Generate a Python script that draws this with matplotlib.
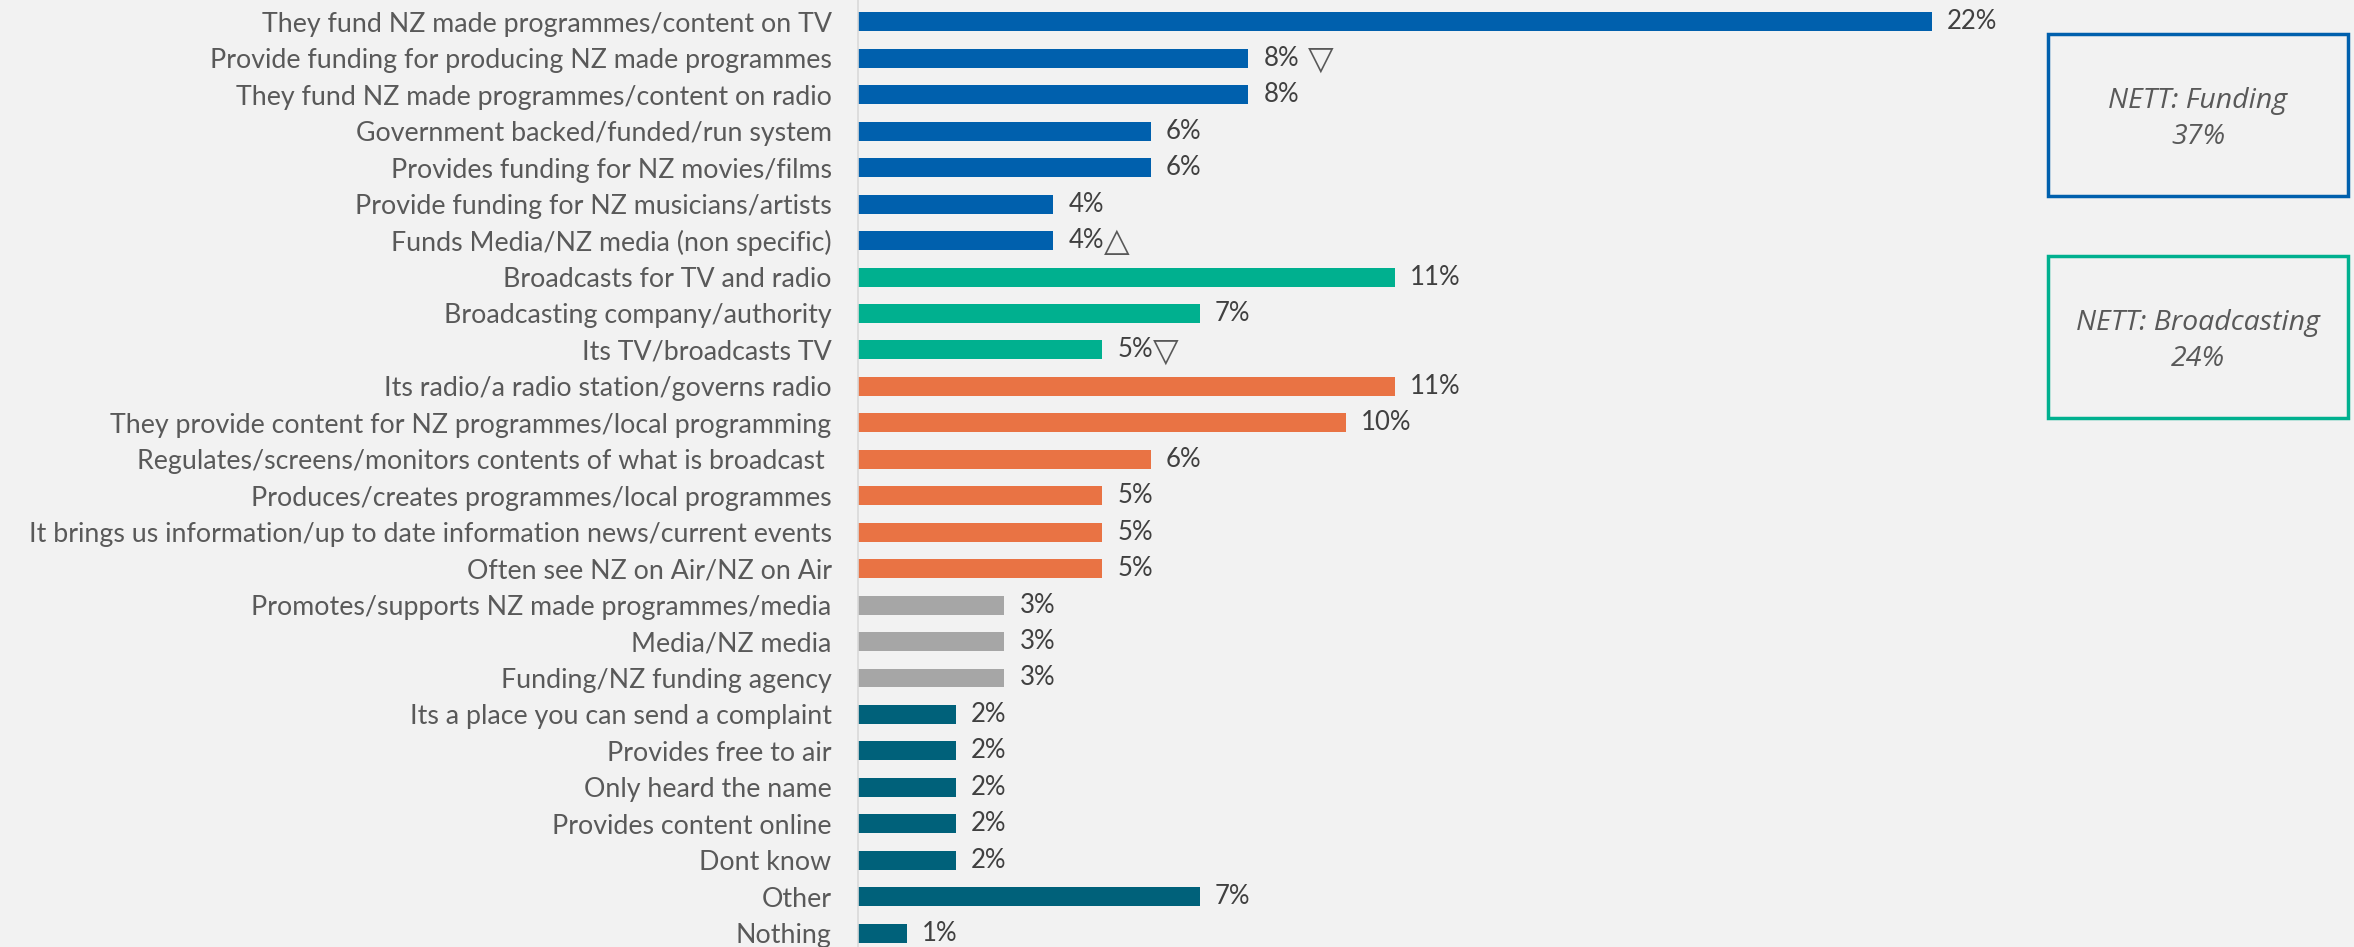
import matplotlib.pyplot as plt

labels = [
    'They fund NZ made programmes/content on TV',
    'Provide funding for producing NZ made programmes',
    'They fund NZ made programmes/content on radio',
    'Government backed/funded/run system',
    'Provides funding for NZ movies/films',
    'Provide funding for NZ musicians/artists',
    'Funds Media/NZ media (non specific)',
    'Broadcasts for TV and radio',
    'Broadcasting company/authority',
    'Its TV/broadcasts TV',
    'Its radio/a radio station/governs radio',
    'They provide content for NZ programmes/local programming',
    'Regulates/screens/monitors contents of what is broadcast ',
    'Produces/creates programmes/local programmes',
    'It brings us information/up to date information news/current events',
    'Often see NZ on Air/NZ on Air',
    'Promotes/supports NZ made programmes/media',
    'Media/NZ media',
    'Funding/NZ funding agency',
    'Its a place you can send a complaint',
    'Provides free to air',
    'Only heard the name',
    'Provides content online',
    'Dont know',
    'Other',
    'Nothing',
]
values = [22, 8, 8, 6, 6, 4, 4, 11, 7, 5, 11, 10, 6, 5, 5, 5, 3, 3, 3, 2, 2, 2, 2, 2, 7, 1]
# significance arrows shown after the value: (symbol, gap in points)
marks = {1: ('\u25BD', 6), 6: ('\u25B3', 0), 9: ('\u25BD', 0)}
group_sizes = [7, 3, 6, 3, 7]
group_colors = ['#0060AD', '#00B08F', '#E97344', '#A6A6A6', '#00617A']
netts = [('NETT: Funding', 37), ('NETT: Broadcasting', 24)]

colors = []
for n, c in zip(group_sizes, group_colors):
    colors += [c] * n

bg = '#F2F2F2'
fig = plt.figure(figsize=(23.54, 9.47), dpi=100, facecolor=bg)
ax = fig.add_axes([858 / 2354, 0, 1 - 858 / 2354, 1])
ax.set_facecolor(bg)

y = list(range(len(labels)))
ax.barh(y, values, height=0.52, color=colors)
ax.set_xlim(0, 1496 / 48.8)
ax.set_ylim(25.38, -0.6)

ax.set_yticks(y)
ax.set_yticklabels(labels, fontsize=19.3, color='#595959', family='Lato')
ax.tick_params(axis='y', length=0, pad=19)
ax.set_xticks([])
for s in ['top', 'right', 'bottom']:
    ax.spines[s].set_visible(False)
ax.spines['left'].set_color('#D9D9D9')
ax.spines['left'].set_linewidth(1.2)

for i, v in enumerate(values):
    t = ax.annotate(f'{v}%', (v, i), xytext=(11, 0),
                    textcoords='offset points', va='center', ha='left',
                    fontsize=18.5, color='#404040', family='Lato')
    if i in marks:
        sym, gap = marks[i]
        ax.annotate(sym, xy=(1, 0.45), xycoords=t, xytext=(gap, 0),
                    textcoords='offset points', va='center', ha='left',
                    fontsize=24, color='#595959', family='DejaVu Sans')

# NETT boxes on the right
box_colors = [group_colors[0], group_colors[1]]
box_tops = [34, 256]
for (name, pct), bc, top in zip(netts, box_colors, box_tops):
    x0, x1 = 2048 / 2354, 2348 / 2354
    h = 162
    rect = plt.Rectangle((x0, 1 - (top + h) / 947), x1 - x0, h / 947,
                         transform=fig.transFigure, fill=False,
                         edgecolor=bc, linewidth=2.5)
    fig.patches.append(rect)
    fig.text((x0 + x1) / 2, 1 - (top + h / 2 + 4) / 947, f'{name}\n{pct}%',
             ha='center', va='center', fontsize=20.5, style='italic',
             color='#595959', family='Open Sans', linespacing=1.4)

fig.savefig('out.png', dpi=100, facecolor=bg)
